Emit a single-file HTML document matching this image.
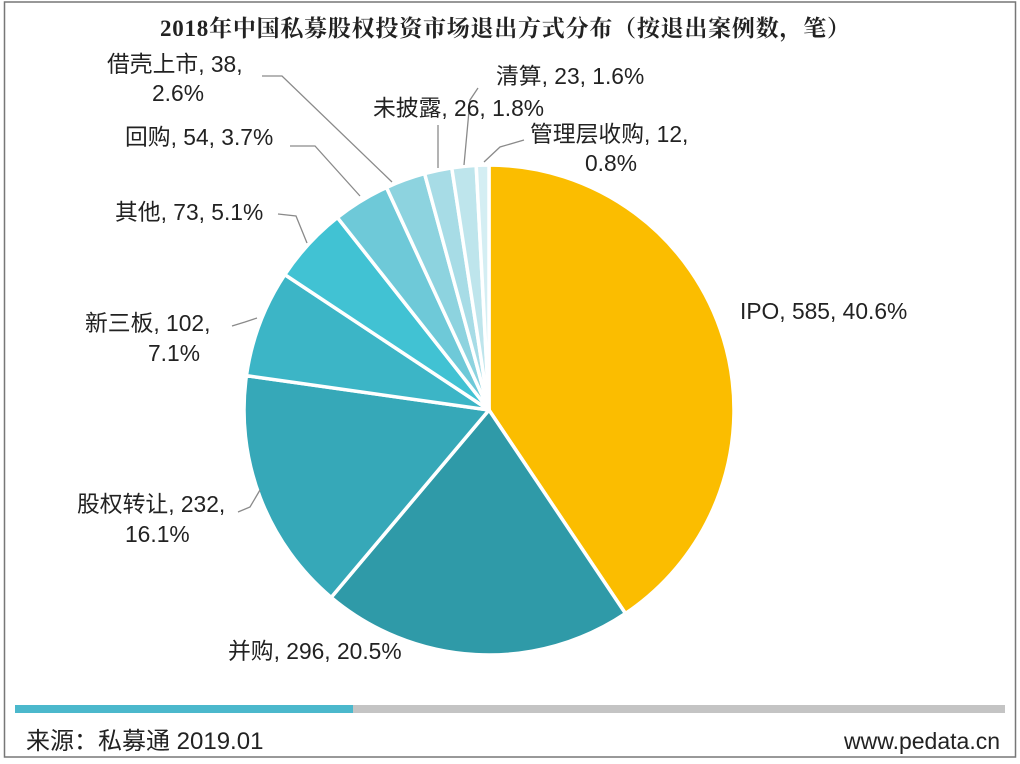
<!DOCTYPE html>
<html><head><meta charset="utf-8"><style>
body{margin:0;background:#fff;}
svg{display:block;font-family:"Liberation Sans","Noto Sans CJK SC",sans-serif;}
</style></head><body>
<svg width="1020" height="764" viewBox="0 0 1020 764">
<rect x="4.5" y="2" width="1011" height="755" fill="#fff" stroke="#777" stroke-width="1.5"/>
<text x="505" y="36" text-anchor="middle" font-size="23" font-weight="bold" fill="#222" font-family="'Liberation Serif','Noto Serif CJK SC',serif" textLength="690">2018年中国私募股权投资市场退出方式分布（按退出案例数，笔）</text>
<g id="slices"></g>
<g fill="none" stroke="#8a8a8a" stroke-width="1.3">
<polyline points="262,76 282,76 392,182"/>
<polyline points="438,125 438,168"/>
<polyline points="478,88 470,100 464,165"/>
<polyline points="524,140 500,147 484,162"/>
<polyline points="290,146 315,146 360,196"/>
<polyline points="278,214 296,216 307,243"/>
<polyline points="232,326 245,322 257,318"/>
<polyline points="238,512 250,507 260,490"/>
</g>
<g font-size="22.8" fill="#222">
<text x="107" y="72">借壳上市, 38,</text>
<text x="152" y="101">2.6%</text>
<text x="373" y="116">未披露, 26, 1.8%</text>
<text x="496" y="84">清算, 23, 1.6%</text>
<text x="530" y="142">管理层收购, 12,</text>
<text x="585" y="171">0.8%</text>
<text x="125" y="145">回购, 54, 3.7%</text>
<text x="115" y="220">其他, 73, 5.1%</text>
<text x="85" y="331">新三板, 102,</text>
<text x="148" y="361">7.1%</text>
<text x="740" y="319">IPO, 585, 40.6%</text>
<text x="77" y="512">股权转让, 232,</text>
<text x="125" y="542">16.1%</text>
<text x="228" y="659">并购, 296, 20.5%</text>
</g>
<rect x="15" y="705" width="990" height="8" fill="#c4c4c4"/>
<rect x="15" y="705" width="338" height="8" fill="#4bb8cc"/>
<text x="26" y="749" font-size="24" fill="#222">来源：私募通 2019.01</text>
<text x="1000" y="749" font-size="23" fill="#222" text-anchor="end">www.pedata.cn</text>
</svg>
<script>
const categories=["IPO","并购","股权转让","新三板","其他","回购","借壳上市","未披露","清算","管理层收购"];
const values=[585,296,232,102,73,54,38,26,23,12];
const colors=["#fbbd00","#2f9aa8","#36a8b8","#3cb5c6","#41c2d3","#6ec9d8","#8dd3df","#a7dce6","#bee5ec","#d4eef3"];
const cx=489,cy=410,r=245;
const total=values.reduce((a,b)=>a+b,0);
const g=document.getElementById('slices');
let a=0;
function pt(ang){return [cx+r*Math.sin(ang),cy-r*Math.cos(ang)];}
values.forEach((v,i)=>{
  const a1=a+v/total*2*Math.PI;
  const p0=pt(a),p1=pt(a1);
  const large=(a1-a)>Math.PI?1:0;
  const p=document.createElementNS('http://www.w3.org/2000/svg','path');
  p.setAttribute('d',`M${cx},${cy}L${p0[0]},${p0[1]}A${r},${r} 0 ${large} 1 ${p1[0]},${p1[1]}Z`);
  p.setAttribute('fill',colors[i]);
  p.setAttribute('stroke','#fff');
  p.setAttribute('stroke-width','3.5');
  p.setAttribute('stroke-linejoin','round');
  
  
  g.appendChild(p);
  a=a1;
});
</script>
</body></html>
